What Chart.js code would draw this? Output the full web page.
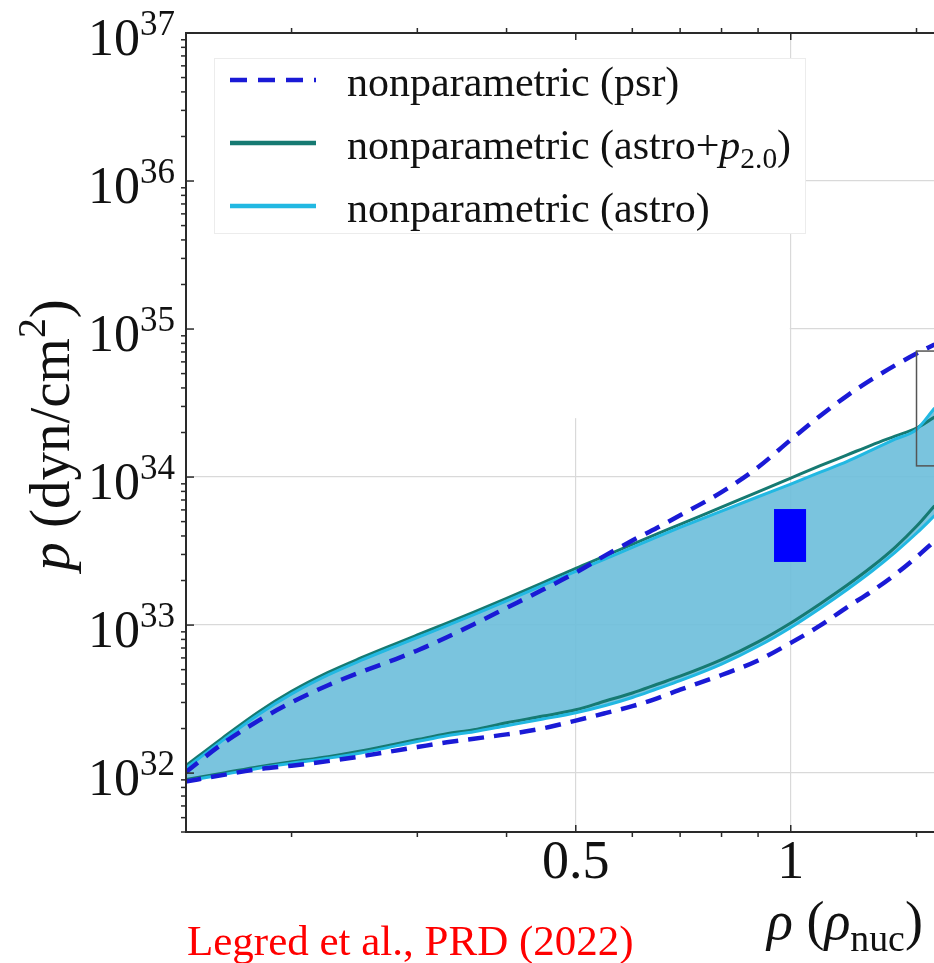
<!DOCTYPE html>
<html><head><meta charset="utf-8">
<script src="https://cdn.jsdelivr.net/npm/chart.js@4.4.0/dist/chart.umd.min.js"></script>
<style>html,body{margin:0;padding:0;background:#fff;}canvas{display:block;}</style>
</head><body>
<canvas id="c" width="934" height="963"></canvas>
<script>
// ---- data ----
const rho = [0.142,0.16,0.18,0.2,0.225,0.25,0.28,0.3,0.33,0.36,0.4,0.45,0.5,0.55,0.6,0.65,0.7,0.8,0.9,1.0,1.1,1.2,1.3,1.4,1.5,1.59];
const psrUpper = [1.008e32,1.578e32,2.27e32,3.004e32,3.925e32,4.813e32,5.893e32,6.736e32,8.283e32,1.014e33,1.307e33,1.738e33,2.263e33,2.958e33,3.724e33,4.551e33,5.519e33,7.916e33,1.165e34,1.786e34,2.595e34,3.553e34,4.586e34,5.684e34,6.831e34,7.859e34];
const psrLower = [8.76e31,9.69e31,1.064e32,1.122e32,1.205e32,1.297e32,1.419e32,1.499e32,1.615e32,1.708e32,1.826e32,2.007e32,2.263e32,2.54e32,2.831e32,3.203e32,3.66e32,4.60e32,5.77e32,7.58e32,9.94e32,1.323e33,1.697e33,2.194e33,2.88e33,3.695e33];
const astroP2Upper = [1.115e32,1.724e32,2.599e32,3.565e32,4.791e32,5.993e32,7.499e32,8.573e32,1.03e33,1.224e33,1.515e33,1.934e33,2.42e33,2.935e33,3.515e33,4.133e33,4.783e33,6.27e33,7.954e33,9.845e33,1.194e34,1.413e34,1.651e34,1.89e34,2.143e34,2.543e34];
const astroP2Lower = [9.04e31,9.98e31,1.105e32,1.192e32,1.291e32,1.41e32,1.575e32,1.684e32,1.846e32,1.965e32,2.19e32,2.427e32,2.677e32,3.071e32,3.477e32,3.981e32,4.515e32,5.845e32,7.709e32,1.034e33,1.395e33,1.864e33,2.486e33,3.354e33,4.65e33,6.404e33];
const astroUpper = [1.073e32,1.658e32,2.5e32,3.429e32,4.608e32,5.766e32,7.213e32,8.245e32,9.91e32,1.178e33,1.457e33,1.86e33,2.309e33,2.802e33,3.355e33,3.944e33,4.566e33,5.892e33,7.359e33,8.967e33,1.079e34,1.277e34,1.527e34,1.803e34,2.094e34,2.926e34];
const astroLower = [8.83e31,9.75e31,1.079e32,1.165e32,1.261e32,1.367e32,1.527e32,1.633e32,1.789e32,1.905e32,2.09e32,2.317e32,2.556e32,2.862e32,3.243e32,3.712e32,4.211e32,5.447e32,7.19e32,9.64e32,1.301e33,1.741e33,2.319e33,3.102e33,4.171e33,5.482e33];

const seriesLabels = ['nonparametric (psr)', 'nonparametric (astro+p2.0)', 'nonparametric (astro)'];
const xTickValues = [0.5, 1];
const xTickLabels = ['0.5', '1'];
const xMinorTicks = [0.2, 0.3, 0.4, 0.6, 0.7, 0.8, 0.9, 1.5];
const yTickExponents = [32, 33, 34, 35, 36, 37];
const yMinorMultipliers = [2, 3, 4, 5, 6, 7, 8, 9];
const highlightRho = [0.9475, 1.0506];
const highlightP = [2.67e33, 6.08e33];
const insetRho = [1.5, 1.8];
const insetP = [1.19e34, 7.1e34];
const creditText = 'Legred et al., PRD (2022)';

// ---- styles ----
const COL = { psr:'#1a1ad6', teal:'#167a72', cyan:'#22b8e2', fill:'rgba(107,190,218,0.9)', grid:'#d9d9d9', axis:'#2a2a2a' };
const SERIF = '"Liberation Serif", "Times New Roman", serif';

const pts = arr => rho.map((x, i) => ({x, y: arr[i]}));

function drawRich(ctx, segs, x, y, size, align) {
  let w = 0;
  const parts = segs.map(s => {
    const sz = (s.sub || s.sup) ? size * 0.7 : size;
    const f = (s.it ? 'italic ' : '') + sz + 'px ' + SERIF;
    ctx.font = f;
    const mw = ctx.measureText(s.t).width;
    w += mw;
    return {t: s.t, f, mw, dy: s.sub ? size * 0.22 : (s.sup ? -size * 0.42 : 0)};
  });
  let cx = align === 'center' ? x - w / 2 : (align === 'right' ? x - w : x);
  ctx.textAlign = 'left';
  ctx.textBaseline = 'alphabetic';
  for (const p of parts) { ctx.font = p.f; ctx.fillText(p.t, cx, y + p.dy); cx += p.mw; }
  return w;
}

const legendSegs = [
  [{t:'nonparametric (psr)'}],
  [{t:'nonparametric (astro+'}, {t:'p', it:true}, {t:'2.0', sub:true}, {t:')'}],
  [{t:'nonparametric (astro)'}]
];

const decor = {
  id: 'decor',
  beforeDatasetsDraw(chart) {
    const {ctx, chartArea: a, scales: {x, y}} = chart;
    ctx.save();
    ctx.fillStyle = '#fff';
    const xr = x.getPixelForValue(1) - 1;
    const yb = y.getPixelForValue(2.5e34);
    ctx.fillRect(a.left, a.top, xr - a.left, yb - a.top);
    ctx.restore();
  },
  afterDatasetsDraw(chart) {
    const {ctx, chartArea: a, scales: {x, y}} = chart;
    ctx.save();
    ctx.beginPath(); ctx.rect(a.left, a.top, a.right - a.left, a.bottom - a.top); ctx.clip();
    const x0 = x.getPixelForValue(highlightRho[0]), x1 = x.getPixelForValue(highlightRho[1]);
    const y0 = y.getPixelForValue(highlightP[1]), y1 = y.getPixelForValue(highlightP[0]);
    ctx.fillStyle = '#0000ff';
    ctx.fillRect(x0, y0, x1 - x0, y1 - y0);
    const bx0 = x.getPixelForValue(insetRho[0]), bx1 = x.getPixelForValue(insetRho[1]);
    const by0 = y.getPixelForValue(insetP[1]), by1 = y.getPixelForValue(insetP[0]);
    ctx.strokeStyle = '#555'; ctx.lineWidth = 1.5;
    ctx.strokeRect(bx0, by0, bx1 - bx0, by1 - by0);
    ctx.restore();
  },
  afterDraw(chart) {
    const {ctx, chartArea: a, scales: {x, y}} = chart;
    ctx.save();
    ctx.strokeStyle = COL.axis; ctx.lineWidth = 2;
    ctx.beginPath();
    ctx.moveTo(a.right + 2, a.top); ctx.lineTo(a.left, a.top); ctx.lineTo(a.left, a.bottom); ctx.lineTo(a.right + 2, a.bottom);
    ctx.stroke();
    ctx.lineWidth = 1.5;
    for (let e = 31; e <= 36; e++) {
      for (const m of yMinorMultipliers) {
        const v = m * Math.pow(10, e);
        if (v < y.min || v > y.max) continue;
        const py = y.getPixelForValue(v);
        ctx.beginPath(); ctx.moveTo(a.left - 5, py); ctx.lineTo(a.left, py); ctx.stroke();
      }
    }
    for (const e of yTickExponents) {
      const py = y.getPixelForValue(Math.pow(10, e));
      ctx.beginPath(); ctx.moveTo(a.left, py); ctx.lineTo(a.left + 8, py); ctx.stroke();
    }
    for (const v of xMinorTicks) {
      const px = x.getPixelForValue(v);
      ctx.beginPath(); ctx.moveTo(px, a.bottom); ctx.lineTo(px, a.bottom + 5); ctx.stroke();
      ctx.beginPath(); ctx.moveTo(px, a.top); ctx.lineTo(px, a.top - 5); ctx.stroke();
    }
    for (const v of xTickValues) {
      const px = x.getPixelForValue(v);
      ctx.beginPath(); ctx.moveTo(px, a.bottom); ctx.lineTo(px, a.bottom - 7); ctx.stroke();
      ctx.beginPath(); ctx.moveTo(px, a.top); ctx.lineTo(px, a.top + 7); ctx.stroke();
    }
    ctx.fillStyle = '#111';
    ctx.textBaseline = 'alphabetic';
    for (const e of yTickExponents) {
      const py = y.getPixelForValue(Math.pow(10, e));
      ctx.font = '52px ' + SERIF; ctx.textAlign = 'right';
      ctx.fillText('10', 140, py + 22);
      ctx.font = '35px ' + SERIF; ctx.textAlign = 'left';
      ctx.fillText(String(e), 140, py + 2);
    }
    xTickValues.forEach((v, i) => {
      const px = x.getPixelForValue(v);
      ctx.font = '54px ' + SERIF; ctx.textAlign = 'center';
      ctx.fillText(xTickLabels[i], px, 878);
    });
    drawRich(ctx, [{t:'ρ', it:true}, {t:' ('}, {t:'ρ', it:true}, {t:'nuc', sub:true}, {t:')'}], 767, 939, 54, 'left');
    ctx.save();
    ctx.translate(69, 435); ctx.rotate(-Math.PI / 2);
    drawRich(ctx, [{t:'p', it:true}, {t:' (dyn/cm'}, {t:'2', sup:true}, {t:')'}], 0, 0, 57, 'center');
    ctx.restore();
    ctx.fillStyle = '#fff';
    ctx.fillRect(214, 58, 591, 175);
    ctx.strokeStyle = '#ececec'; ctx.lineWidth = 1;
    ctx.strokeRect(214.5, 58.5, 591, 175);
    const ds = chart.data.datasets;
    const legendDs = [ds[0], ds[2], ds[4]];
    const rows = [80, 143, 206];
    legendDs.forEach((d, i) => {
      ctx.strokeStyle = d.borderColor; ctx.lineWidth = 4.5;
      ctx.setLineDash(d.borderDash ? [17, 11] : []);
      ctx.beginPath(); ctx.moveTo(230, rows[i]); ctx.lineTo(316, rows[i]); ctx.stroke();
      ctx.setLineDash([]);
      ctx.fillStyle = '#111';
      drawRich(ctx, legendSegs[i], 347, rows[i] + 16, 42, 'left');
    });
    ctx.fillStyle = '#ff0000';
    ctx.font = '43px ' + SERIF; ctx.textAlign = 'left';
    ctx.fillText(creditText, 187, 955);
    ctx.restore();
  }
};

new Chart(document.getElementById('c'), {
  type: 'line',
  data: { datasets: [
    {label: seriesLabels[0], data: pts(psrUpper), borderColor: COL.psr, borderWidth: 4.5, borderDash: [16, 10], order: 0, fill: false},
    {label: seriesLabels[0], data: pts(psrLower), borderColor: COL.psr, borderWidth: 4.5, borderDash: [16, 10], order: 0, fill: false},
    {label: seriesLabels[1], data: pts(astroP2Upper), borderColor: COL.teal, borderWidth: 3, order: 2, fill: false},
    {label: seriesLabels[1], data: pts(astroP2Lower), borderColor: COL.teal, borderWidth: 3, order: 2, fill: false},
    {label: seriesLabels[2], data: pts(astroUpper), borderColor: COL.cyan, borderWidth: 3, order: 1, fill: '+1', backgroundColor: COL.fill},
    {label: seriesLabels[2], data: pts(astroLower), borderColor: COL.cyan, borderWidth: 3, order: 1, fill: false}
  ]},
  options: {
    responsive: false, animation: false, devicePixelRatio: 1,
    layout: {padding: {left: 186, right: 0, top: 33, bottom: 131}},
    elements: {point: {radius: 0, hoverRadius: 0}, line: {tension: 0, cubicInterpolationMode: 'monotone', borderCapStyle: 'butt'}},
    plugins: {legend: {display: false}, tooltip: {enabled: false}, filler: {drawTime: 'beforeDatasetsDraw', propagate: false}},
    events: [],
    scales: {
      x: {type: 'logarithmic', min: 0.1423, max: 1.587,
          ticks: {display: false}, grid: {drawTicks: false, color: COL.grid, lineWidth: 1.2}, border: {display: false},
          afterBuildTicks: s => { s.ticks = xTickValues.map(v => ({value: v})); }},
      y: {type: 'logarithmic', min: 4e31, max: 1e37,
          ticks: {display: false}, grid: {drawTicks: false, color: COL.grid, lineWidth: 1.2}, border: {display: false},
          afterBuildTicks: s => { s.ticks = yTickExponents.map(e => ({value: Math.pow(10, e)})); }}
    }
  },
  plugins: [decor]
});
</script>
</body></html>
